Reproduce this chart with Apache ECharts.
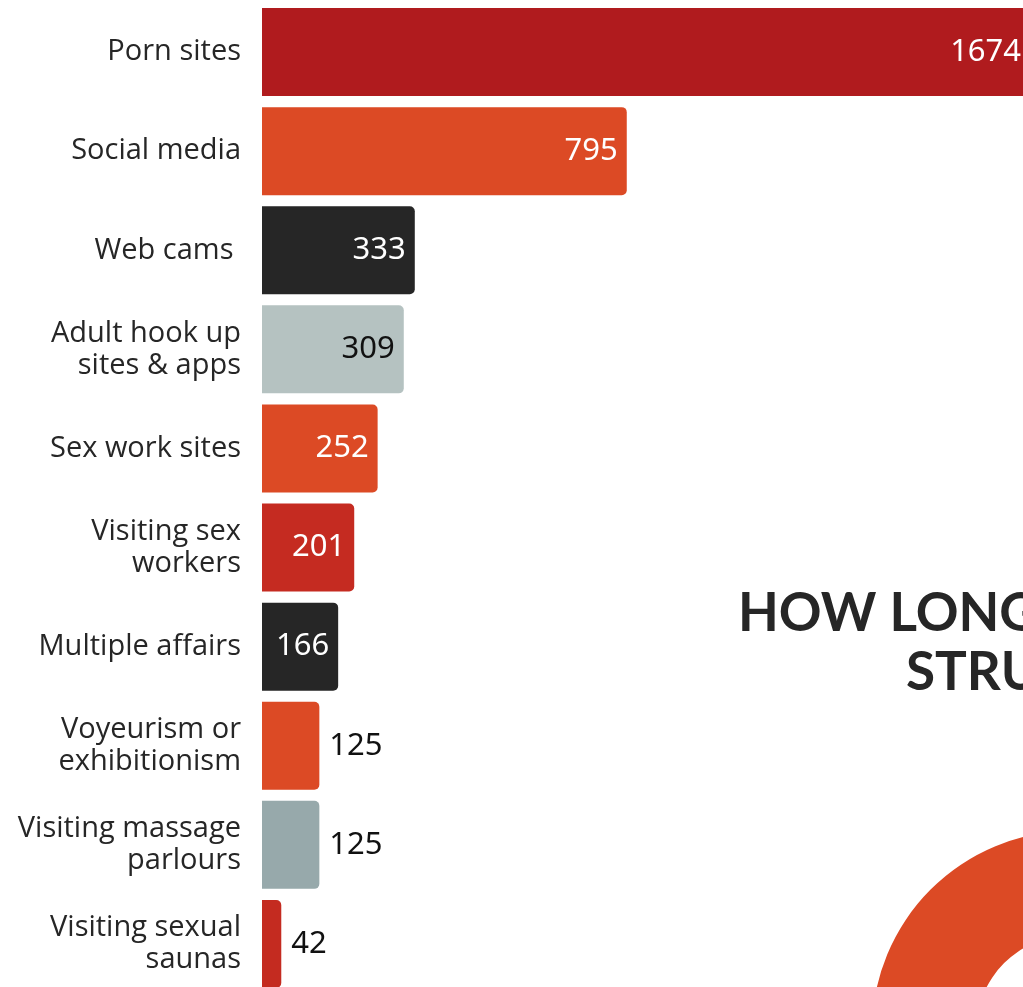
<!DOCTYPE html>
<html>
<head>
<meta charset="utf-8">
<script src="https://cdn.jsdelivr.net/npm/echarts@6/dist/echarts.min.js"></script>
<style>
  html, body { margin: 0; padding: 0; background: #fff; overflow: hidden; }
  #chart { width: 1023px; height: 987px; }
</style>
</head>
<body>
<div id="chart"></div>
<script>
const categories = [
  'Porn sites',
  'Social media',
  'Web cams ',
  'Adult hook up\nsites & apps',
  'Sex work sites',
  'Visiting sex\nworkers',
  'Multiple affairs',
  'Voyeurism or\nexhibitionism',
  'Visiting massage\nparlours',
  'Visiting sexual\nsaunas'
]
const values = [1674, 795, 333, 309, 252, 201, 166, 125, 125, 42]
const barColors = ['#B01B1E', '#DC4A25', '#262626', '#B5C2C1', '#DC4A25', '#C52B21', '#262626', '#DC4A25', '#97A9AB', '#C42B20']
// where the count sits: inside the bar or just past its end
const labelInside = [true, true, true, true, true, true, true, false, false, false]
const labelDark = [false, false, false, true, false, false, false, true, true, true]

const chart = echarts.init(document.getElementById('chart'), null, { renderer: 'canvas' })

chart.setOption({
  backgroundColor: '#ffffff',
  animation: false,
  grid: { left: 262, top: 2.5, width: 780, height: 991, outerBoundsMode: 'none', containLabel: false },
  xAxis: {
    type: 'value',
    min: 0,
    max: 1700,
    show: false
  },
  yAxis: {
    type: 'category',
    inverse: true,
    data: categories,
    axisLine: { show: false },
    axisTick: { show: false },
    axisLabel: {
      margin: 21,
      color: '#262626',
      fontFamily: 'Open Sans',
      fontSize: 29,
      lineHeight: 32,
      align: 'right'
    }
  },
  series: [{
    type: 'bar',
    barWidth: 88,
    clip: false,
    data: values.map((v, i) => ({
      value: v,
      itemStyle: { color: barColors[i], borderRadius: [0, 5, 5, 0] },
      label: {
        show: true,
        position: labelInside[i] ? 'insideRight' : 'right',
        distance: labelInside[i] ? 9 : 10,
        color: labelDark[i] ? '#111111' : '#ffffff'
      }
    })),
    label: {
      fontFamily: 'Noto Sans',
      fontSize: 31
    }
  }],
  graphic: [
    {
      type: 'ring',
      silent: true,
      shape: { cx: 1072, cy: 1031, r: 200, r0: 96 },
      style: { fill: '#DC4A25' }
    },
    {
      type: 'text',
      left: 738,
      top: 587,
      style: {
        text: 'HOW LONG',
        fill: '#262626',
        font: 'bold 53px Lato'
      }
    },
    {
      type: 'text',
      left: 906,
      top: 646,
      style: {
        text: 'STRU',
        fill: '#262626',
        font: 'bold 53px Lato'
      }
    }
  ]
})
</script>
</body>
</html>
